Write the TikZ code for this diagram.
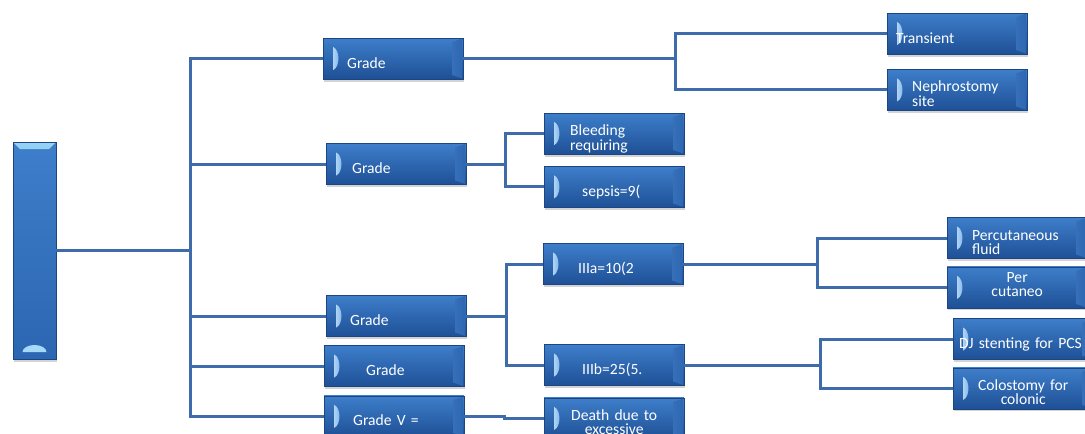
\documentclass[tikz,border=0pt]{standalone}
\usepackage{fontspec}
\newfontfamily\gfont{Carlito}
\usepackage{tikz}
\usetikzlibrary{shadows}
\usetikzlibrary{positioning}
\hyphenpenalty=10000
\definecolor{boxblue}{RGB}{44,102,178}
\definecolor{boxtop}{RGB}{62,126,202}
\definecolor{boxbot}{RGB}{30,80,150}
\definecolor{boxedge}{RGB}{28,70,130}
\definecolor{bevel}{RGB}{150,210,245}
\definecolor{marker}{RGB}{120,180,235}
\definecolor{linkblue}{RGB}{62,108,170}

\begin{document}
\begin{tikzpicture}[x=1pt, y=-1pt,
    gbox/.style={rectangle, minimum width=140pt, minimum height=41pt, inner sep=0pt,
        top color=boxtop, bottom color=boxbot, draw=boxedge, line width=0.4pt,
        text=white, font=\gfont\fontsize{15.6pt}{14.5pt}\selectfont, align=left,
        text height=23pt, text depth=4pt,
        drop shadow={shadow xshift=1pt, shadow yshift=-2.5pt, opacity=0.35},
        path picture={
            \shade[left color=bevel!70!white, right color=boxblue]
                ([shift={(-11pt,-4pt)}]path picture bounding box.north east)
                -- ([shift={(-1pt,-0.5pt)}]path picture bounding box.north east)
                -- ([shift={(-1pt,0.5pt)}]path picture bounding box.south east)
                -- ([shift={(-11pt,4pt)}]path picture bounding box.south east) -- cycle;
            \shade[left color=marker!60!white, right color=marker]
                ([shift={(10pt,-9pt)}]path picture bounding box.north west)
                .. controls +(7pt,-3pt) and +(7pt,3pt) ..
                ([shift={(10pt,9pt)}]path picture bounding box.south west) -- cycle;
        }},
    two/.style={text height=10pt, text depth=6pt},
    rootbox/.style={rectangle, minimum width=43pt, minimum height=217pt, inner sep=0pt,
        top color=boxtop, bottom color=boxblue, draw=boxedge, line width=0.4pt,
        drop shadow={shadow xshift=1pt, shadow yshift=-2.5pt, opacity=0.35},
        path picture={
            \shade[top color=bevel, bottom color=boxtop]
                ([shift={(1pt,-1pt)}]path picture bounding box.north west)
                -- ([shift={(-1pt,-1pt)}]path picture bounding box.north east)
                -- ([shift={(-7pt,-7pt)}]path picture bounding box.north east)
                -- ([shift={(7pt,-7pt)}]path picture bounding box.north west) -- cycle;
            \fill[bevel!85!white] ([shift={(-12pt,7pt)}]path picture bounding box.south)
                arc[start angle=180, end angle=0, x radius=12pt, y radius=7pt] -- cycle;
        }},
    link/.style={draw=linkblue, line width=3pt}]
    \useasboundingbox (0,0) rectangle (1085,434);

    \node[rootbox] (root) at (34.5,250.5) {};

    \node[gbox, text width=92pt, anchor=west] (g1) at (323,58.5) {Grade};
    \node[gbox, text width=88pt, anchor=west] (g2) at (326,164) {Grade};
    \node[gbox, text width=92pt, anchor=west] (g3) at (326,316) {Grade};
    \node[gbox, text width=56pt, anchor=west] (g4) at (324,366) {Grade};
    \node[gbox, text width=82pt, below=9pt of g4] (g5) {Grade V =};

    \node[gbox, two, text width=88pt, anchor=west] (bleed) at (544,133.5) {Bleeding\\requiring};
    \node[gbox, text width=64pt, below=12pt of bleed] (sepsis) {sepsis=9(};
    \node[gbox, text width=70pt, anchor=west] (IIIa) at (543,264) {IIIa=10(2};
    \node[gbox, text width=64pt, anchor=west] (IIIb) at (544,365) {IIIb=25(5.};
    \node[gbox, two, text width=100pt, align=center, below=12pt of IIIb] (death) {Death due to\\excessive};

    \node[gbox, text width=122pt, anchor=west] (transient) at (887,33.5) {Transient};
    \node[gbox, two, text width=90pt, below=15pt of transient] (nephro) {Nephrostomy\\site};
    \node[gbox, two, text width=90pt, anchor=west] (perc) at (947,238) {Percutaneous\\fluid};
    \node[gbox, two, text width=100pt, align=center, text height=2pt, text depth=12pt,
        below=8pt of perc] (percut) {Per\\cutaneo};
    \node[gbox, text width=128pt, anchor=west] (dj) at (953,339) {DJ stenting for PCS};
    \node[gbox, two, text width=100pt, align=center, below=8pt of dj] (colost) {Colostomy for\\colonic};

    \draw[link] (root.east) -- ++(134,0) |- (g1.west);
    \draw[link] (root.east) -- ++(134,0) |- (g2.west);
    \draw[link] (root.east) -- ++(134,0) |- (g3.west);
    \draw[link] (root.east) -- ++(134,0) |- (g4.west);
    \draw[link] (root.east) -- ++(134,0) |- (g5.west);

    \draw[link] (g1.east) -- ++(212,0) |- (transient.west);
    \draw[link] (g1.east) -- ++(212,0) |- (nephro.west);
    \draw[link] (g2.east) -- ++(39,0) |- (bleed.west);
    \draw[link] (g2.east) -- ++(39,0) |- (sepsis.west);
    \draw[link] (g3.east) -- ++(40,0) |- (IIIa.west);
    \draw[link] (g3.east) -- ++(40,0) |- (IIIb.west);
    \draw[link] (g5.east) -- ++(40,0) |- (death.west);

    \draw[link] (IIIa.east) -- ++(134,0) |- (perc.west);
    \draw[link] (IIIa.east) -- ++(134,0) |- (percut.west);
    \draw[link] (IIIb.east) -- ++(136,0) |- (dj.west);
    \draw[link] (IIIb.east) -- ++(136,0) |- (colost.west);
\end{tikzpicture}
\end{document}
